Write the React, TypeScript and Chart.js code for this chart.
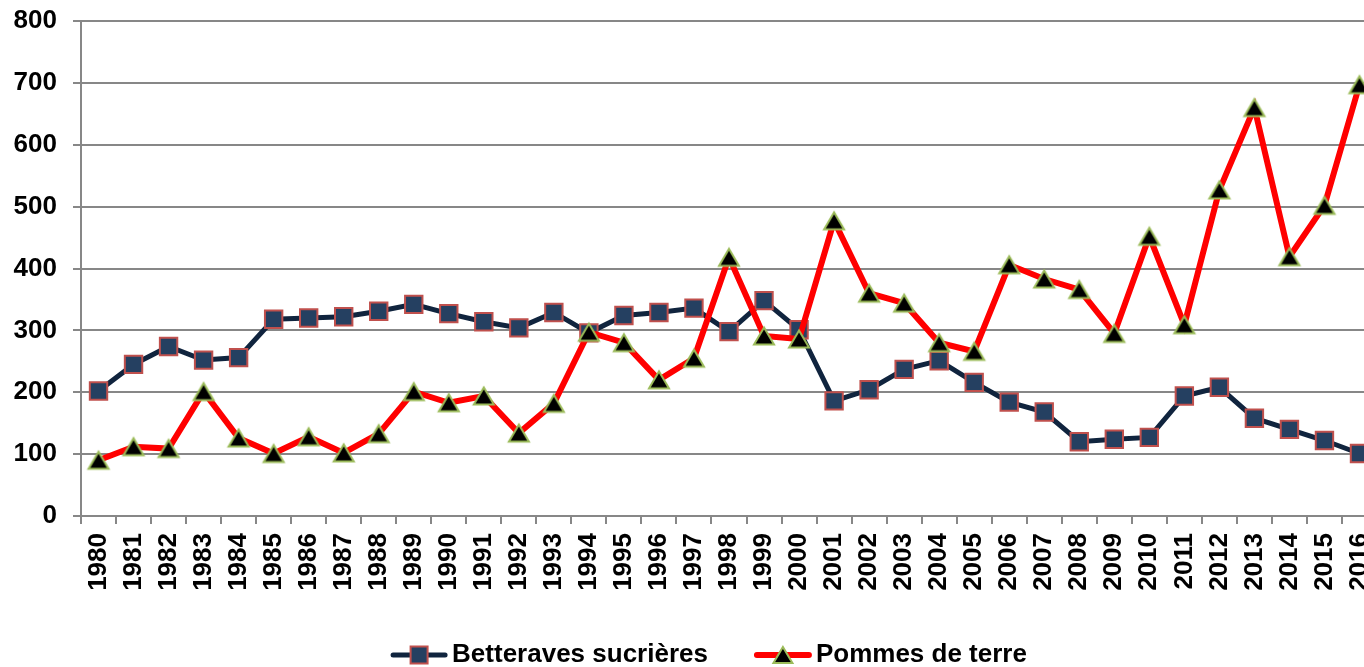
import React, { useEffect, useRef } from 'react';
import { Chart, registerables } from 'chart.js';

Chart.register(...registerables);

const years = [
  '1980', '1981', '1982', '1983', '1984', '1985', '1986', '1987', '1988', '1989',
  '1990', '1991', '1992', '1993', '1994', '1995', '1996', '1997', '1998', '1999',
  '2000', '2001', '2002', '2003', '2004', '2005', '2006', '2007', '2008', '2009',
  '2010', '2011', '2012', '2013', '2014', '2015', '2016',
];

const betteraves = [
  202, 245, 274, 252, 256, 318, 320, 322, 331, 342,
  327, 314, 304, 329, 296, 324, 329, 336, 298, 348,
  301, 186, 204, 237, 251, 216, 184, 168, 120, 124,
  127, 194, 208, 158, 140, 122, 101,
];

const pommes = [
  90, 112, 109, 201, 126, 101, 128, 102, 133, 201,
  183, 194, 134, 182, 297, 280, 220, 255, 418, 291,
  286, 477, 360, 344, 280, 266, 406, 383, 366, 295,
  452, 309, 527, 660, 419, 502, 697,
];

const seriesNames = ['Betteraves sucrières', 'Pommes de terre'];

const yMin = 0;
const yMax = 800;
const yStep = 100;

const FONT_FAMILY = '"Liberation Sans", Arial, Helvetica, sans-serif';
const FONT_SIZE = 26;
const GRID = '#878787';
const NAVY_LINE = '#10243E';
const NAVY_FILL = '#254061';
const SQUARE_BORDER = '#C0504D';
const RED = '#FF0000';
const TRI_BORDER = '#9BBB59';

function drawSquare(ctx: CanvasRenderingContext2D, x: number, y: number, side: number) {
  ctx.fillStyle = NAVY_FILL;
  ctx.strokeStyle = SQUARE_BORDER;
  ctx.lineWidth = 2;
  ctx.beginPath();
  ctx.rect(x - side / 2, y - side / 2, side, side);
  ctx.fill();
  ctx.stroke();
}

// triangle whose bounding box is centred on (x, y)
function drawTriangle(ctx: CanvasRenderingContext2D, x: number, y: number, w: number, h: number) {
  ctx.fillStyle = '#000000';
  ctx.strokeStyle = TRI_BORDER;
  ctx.lineWidth = 2;
  ctx.lineJoin = 'miter';
  ctx.beginPath();
  ctx.moveTo(x, y - h / 2);
  ctx.lineTo(x + w / 2, y + h / 2);
  ctx.lineTo(x - w / 2, y + h / 2);
  ctx.closePath();
  ctx.fill();
  ctx.stroke();
}

function makeTriangleMarker(): HTMLCanvasElement {
  const c = document.createElement('canvas');
  c.width = 26;
  c.height = 24;
  const ctx = c.getContext('2d');
  if (ctx) drawTriangle(ctx, 13, 12, 20, 17);
  return c;
}

const customLegend = {
  id: 'customLegend',
  afterDraw(chart: any) {
    const ctx: CanvasRenderingContext2D = chart.ctx;
    ctx.save();
    ctx.font = `bold ${FONT_SIZE}px ${FONT_FAMILY}`;
    ctx.textBaseline = 'middle';
    ctx.textAlign = 'left';
    const lineLen = 56;
    const gap = 5;
    const itemGap = 47;
    const labels = seriesNames;
    const widths = labels.map((l) => ctx.measureText(l).width);
    const total = widths.reduce((a, w) => a + lineLen + gap + w, 0) + itemGap * (labels.length - 1);
    let x = chart.width / 2 - total / 2;
    const y = 655;
    labels.forEach((label, i) => {
      ctx.lineCap = 'round';
      ctx.beginPath();
      ctx.moveTo(x + 2, y);
      ctx.lineTo(x + lineLen - 2, y);
      ctx.strokeStyle = i === 0 ? NAVY_LINE : RED;
      ctx.lineWidth = i === 0 ? 5 : 6;
      ctx.stroke();
      if (i === 0) drawSquare(ctx, x + lineLen / 2, y, 17);
      else drawTriangle(ctx, x + lineLen / 2, y, 19, 16);
      ctx.fillStyle = '#000000';
      ctx.fillText(label, x + lineLen + gap, y);
      x += lineLen + gap + widths[i] + itemGap;
    });
    ctx.restore();
  },
};

export default function App() {
  const canvasRef = useRef<HTMLCanvasElement | null>(null);

  useEffect(() => {
    const canvas = canvasRef.current;
    if (!canvas) return;
    const tickFont = { family: FONT_FAMILY, size: FONT_SIZE, weight: 'bold' as const };
    const triMarker = makeTriangleMarker();
    const chart = new Chart(canvas, {
      type: 'line',
      data: {
        labels: years,
        datasets: [
          {
            label: seriesNames[0],
            data: betteraves,
            borderColor: NAVY_LINE,
            borderWidth: 5,
            backgroundColor: NAVY_FILL,
            pointStyle: 'rect',
            pointRadius: 12.3,
            pointHoverRadius: 12.3,
            pointBackgroundColor: NAVY_FILL,
            pointBorderColor: SQUARE_BORDER,
            pointBorderWidth: 2,
            tension: 0,
            order: 2,
          },
          {
            label: seriesNames[1],
            data: pommes,
            borderColor: RED,
            borderWidth: 6,
            backgroundColor: '#000000',
            pointStyle: triMarker as any,
            pointRadius: 11.5,
            pointHoverRadius: 11.5,
            pointBackgroundColor: '#000000',
            pointBorderColor: TRI_BORDER,
            pointBorderWidth: 2,
            tension: 0,
            order: 1,
          },
        ],
      },
      options: {
        responsive: false,
        animation: false,
        devicePixelRatio: 1,
        layout: { padding: { top: 21, right: 41, left: 0, bottom: 0 } },
        plugins: {
          legend: { display: false },
          tooltip: { enabled: false },
          title: { display: false },
        },
        scales: {
          x: {
            type: 'category',
            offset: true,
            grid: {
              drawOnChartArea: false,
              offset: true,
              color: GRID,
              lineWidth: 2,
              tickLength: 8,
            },
            border: { display: true, color: GRID, width: 2 },
            ticks: {
              color: '#000000',
              font: tickFont,
              minRotation: 90,
              maxRotation: 90,
              autoSkip: false,
              padding: 9,
            },
            afterFit: (scale: any) => {
              scale.height = 151;
              scale.paddingLeft = 0;
              scale.paddingRight = 0;
            },
          },
          y: {
            min: yMin,
            max: yMax,
            grid: {
              color: GRID,
              lineWidth: 2,
              tickLength: 8,
            },
            border: { display: true, color: GRID, width: 2 },
            ticks: {
              stepSize: yStep,
              color: '#000000',
              font: tickFont,
              padding: 16,
            },
            afterFit: (scale: any) => {
              scale.width = 81;
              scale.paddingTop = 0;
              scale.paddingBottom = 0;
            },
          },
        },
      },
      plugins: [customLegend],
    });
    return () => chart.destroy();
  }, []);

  return (
    <div
      style={{
        position: 'fixed',
        left: 0,
        top: 0,
        width: 1364,
        height: 667,
        overflow: 'hidden',
        background: '#ffffff',
      }}
    >
      <canvas ref={canvasRef} width={1418} height={667} style={{ display: 'block' }} />
    </div>
  );
}
